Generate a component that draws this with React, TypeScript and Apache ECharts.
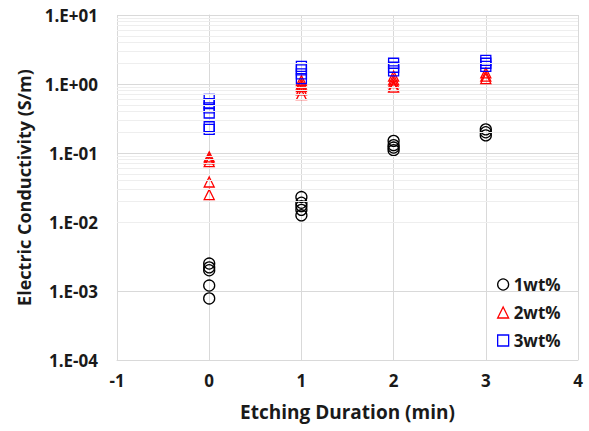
import React, { useEffect, useRef } from "react";
import * as echarts from "echarts";

const durations = [0, 1, 2, 3];
const wt1Values = [
  [0.0025, 0.0022, 0.002, 0.0012, 0.00078],
  [0.023, 0.019, 0.017, 0.015, 0.0125],
  [0.15, 0.13, 0.12, 0.11],
  [0.22, 0.2, 0.18],
];
const wt2Values = [
  [0.088, 0.082, 0.075, 0.038, 0.025],
  [1.12, 1.0, 0.92, 0.82, 0.7],
  [1.3, 1.15, 1.05, 0.95, 0.9],
  [1.45, 1.3, 1.2],
];
const wt3Values = [
  [0.6, 0.52, 0.45, 0.38, 0.24, 0.22],
  [1.8, 1.6, 1.4, 1.2],
  [2.0, 1.75, 1.55],
  [2.2, 2.0, 1.8],
];
const seriesNames = ["1wt%", "2wt%", "3wt%"];
const yMin = 1e-4;
const yMax = 10;
const xMin = -1;
const xMax = 4;

const toPoints = (vals: number[][]) =>
  vals.flatMap((arr, i) => arr.map((v) => [durations[i], v]));

const minorGrid: number[] = [];
for (let e = -4; e < 1; e++) {
  for (let m = 2; m <= 9; m++) minorGrid.push(m * Math.pow(10, e));
}

const fmt = (v: number) => {
  const e = Math.round(Math.log10(v));
  return `1.E${e >= 0 ? "+" : "-"}${String(Math.abs(e)).padStart(2, "0")}`;
};

const FONT = "Open Sans";
const TXT = "#1a1a1a";

export default function App() {
  const ref = useRef<HTMLDivElement>(null);
  useEffect(() => {
    if (!ref.current) return;
    const chart = echarts.init(ref.current, undefined, { renderer: "svg" });
    const colors = ["#000000", "#ff0000", "#0000ff"];
    const symbols = ["circle", "triangle", "rect"];
    const sizes = [11, 10, 10];
    const all = [wt1Values, wt2Values, wt3Values];
    chart.setOption({
      animation: false,
      backgroundColor: "#ffffff",
      grid: { left: 117, right: 11, top: 15, bottom: 71 },
      xAxis: {
        type: "value",
        min: xMin,
        max: xMax,
        interval: 1,
        name: "Etching Duration (min)",
        nameLocation: "middle",
        nameGap: 42,
        nameTextStyle: { fontFamily: FONT, fontWeight: "bold", fontSize: 19, color: TXT },
        axisLine: { show: true, onZero: false, lineStyle: { color: "#d9d9d9", width: 1 } },
        axisTick: { show: false },
        axisLabel: { fontFamily: FONT, fontWeight: "bold", fontSize: 17, color: TXT, margin: 12 },
        splitLine: { show: true, lineStyle: { color: "#d9d9d9", width: 1 } },
      },
      yAxis: {
        type: "log",
        logBase: 10,
        min: yMin,
        max: yMax,
        name: "Electric Conductivity (S/m)",
        nameLocation: "middle",
        nameGap: 84,
        nameTextStyle: { fontFamily: FONT, fontWeight: "bold", fontSize: 18, color: TXT },
        axisLine: { show: true, lineStyle: { color: "#d9d9d9", width: 1 } },
        axisTick: { show: false },
        axisLabel: {
          fontFamily: FONT,
          fontWeight: "bold",
          fontSize: 17,
          color: TXT,
          margin: 19,
          formatter: (v: number) => fmt(v),
        },
        splitLine: { show: true, lineStyle: { color: "#d9d9d9", width: 1 } },
      },
      legend: {
        orient: "vertical",
        left: 492,
        top: 271,
        itemGap: 11,
        itemWidth: 11,
        itemHeight: 11,
        textStyle: { fontFamily: FONT, fontWeight: "bold", fontSize: 17, color: TXT },
        data: seriesNames.map((n, i) => ({
          name: n,
          icon: symbols[i],
          itemStyle: { color: "transparent", borderColor: colors[i], borderWidth: 1.3 },
        })),
      },
      series: [
        {
          type: "scatter",
          name: "minor",
          data: [],
          silent: true,
          z: 0,
          markLine: {
            silent: true,
            symbol: ["none", "none"],
            label: { show: false },
            lineStyle: { color: "#eeeeee", type: "solid", width: 1 },
            data: minorGrid.map((v) => ({ yAxis: v })),
          },
        },
        ...all.map((vals, i) => ({
          type: "scatter",
          name: seriesNames[i],
          symbol: symbols[i],
          symbolSize: sizes[i],
          data: toPoints(vals),
          itemStyle: { color: "transparent", borderColor: colors[i], borderWidth: 1.3, opacity: 1 },
          z: 3,
        })),
      ],
    });
    return () => chart.dispose();
  }, []);
  return (
    <div
      ref={ref}
      style={{ position: "fixed", left: 0, top: 0, width: 589, height: 431, background: "#fff" }}
    />
  );
}
